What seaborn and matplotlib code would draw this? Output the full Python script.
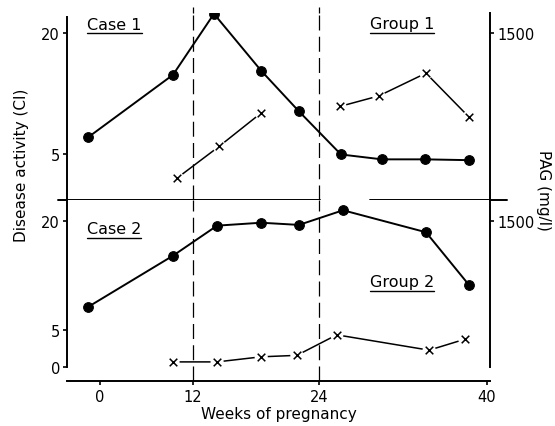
import numpy as np
import pandas as pd
import matplotlib
matplotlib.use("Agg")
import matplotlib.pyplot as plt
import seaborn as sns

# ---- data (weeks on the drawn scale; CI = disease activity, PAG in mg/l) ----
case1_weeks = [2.0, 10.1, 14.0, 18.5, 22.1, 26.1, 30.0, 34.1, 38.3]
case1_ci = [7.1, 14.8, 22.3, 15.3, 10.3, 5.0, 4.4, 4.4, 4.3]
case1_pag_weeks = [10.5, 14.5, 18.5, 26.0, 29.7, 34.2, 38.3]
case1_pag = [158, 450, 758, 818, 915, 1125, 720]
case1_pag_segment = [0, 0, 0, 1, 1, 1, 1]

case2_weeks = [2.0, 10.1, 14.3, 18.5, 22.1, 26.3, 34.2, 38.3]
case2_ci = [8.2, 15.2, 19.3, 19.7, 19.4, 21.4, 18.4, 11.2]
case2_pag_weeks = [10.1, 14.3, 18.5, 21.9, 25.7, 34.5, 37.9]
case2_pag = [53, 53, 105, 120, 330, 173, 285]
case2_pag_segment = [0, 0, 0, 0, 0, 0, 0]

x_tick_pos = [3.14, 12, 24, 40]
x_tick_labels = ["0", "12", "24", "40"]
ci_ticks_top = [5, 20]
ci_ticks_bottom = [0, 5, 20]
pag_ticks = [1500]
vlines = [12, 24]

sns.set_style("white")
plt.rcParams["font.family"] = ["DejaVu Sans"]
plt.rcParams["text.color"] = "black"
plt.rcParams["axes.labelcolor"] = "black"
plt.rcParams["xtick.color"] = "black"
plt.rcParams["ytick.color"] = "black"

W, H = 555, 427
fig = plt.figure(figsize=(W / 100, H / 100), dpi=100)

def fx(px):
    return px / W

def fy(py):
    return 1 - py / H

L, R = 67, 490
ax_top = fig.add_axes([fx(L), fy(201), fx(R - L), (201 - 14) / H])
ax_bot = fig.add_axes([fx(L), fy(382), fx(R - L), (382 - 201) / H])

xlim = (0, 40.3)
top_ylim = (-0.6, 22.4)
bot_ylim = (-1.9, 22.8)
PAG_PER_CI = 75.0

def draw_panel(ax, weeks, ci, pweeks, pag, seg, ylim, cticks):
    ax.set_xlim(*xlim)
    ax.set_ylim(*ylim)
    ax2 = ax.twinx()
    ax2.set_ylim(ylim[0] * PAG_PER_CI, ylim[1] * PAG_PER_CI)
    d1 = pd.DataFrame({"w": weeks, "ci": ci})
    sns.lineplot(data=d1, x="w", y="ci", ax=ax, color="black", lw=1.4,
                 marker="o", markersize=7, markeredgecolor="black",
                 estimator=None, sort=False, zorder=3)
    d2 = pd.DataFrame({"w": pweeks, "pag": pag, "seg": seg})
    sns.lineplot(data=d2, x="w", y="pag", units="seg", ax=ax2, color="black",
                 lw=1.1, estimator=None, sort=False, zorder=2)
    sns.scatterplot(data=d2, x="w", y="pag", ax=ax2, color="white", s=90,
                    marker="o", edgecolor="none", zorder=3)
    sns.scatterplot(data=d2, x="w", y="pag", ax=ax2, color="black", s=30,
                    marker="x", linewidth=1.1, zorder=4)
    for a in (ax, ax2):
        a.set_xlabel("")
        a.set_ylabel("")
        for s in ("top", "bottom", "left", "right"):
            a.spines[s].set_visible(False)
    ax.spines["left"].set_visible(True)
    ax.spines["left"].set_linewidth(1.4)
    ax.spines["left"].set_color("black")
    ax2.spines["right"].set_visible(True)
    ax2.spines["right"].set_linewidth(1.4)
    ax2.spines["right"].set_color("black")
    ax.set_yticks(cticks)
    ax2.set_yticks(pag_ticks)
    ax.tick_params(axis="y", direction="out", length=3, width=1.2,
                   labelsize=10.5, pad=2, colors="black", left=True)
    ax2.tick_params(axis="y", direction="out", length=3, width=1.2,
                    labelsize=10.5, pad=2, colors="black", right=True)
    for v in vlines:
        ax.axvline(v, color="black", lw=0.9, dashes=(12, 5), zorder=1)
    return ax2

ax2_top = draw_panel(ax_top, case1_weeks, case1_ci, case1_pag_weeks, case1_pag,
                     case1_pag_segment, top_ylim, ci_ticks_top)
ax2_bot = draw_panel(ax_bot, case2_weeks, case2_ci, case2_pag_weeks, case2_pag,
                     case2_pag_segment, bot_ylim, ci_ticks_bottom)

ax_top.spines["left"].set_bounds(top_ylim[0], 21.9)
ax_bot.spines["left"].set_bounds(0, bot_ylim[1])
ax2_bot.spines["right"].set_bounds(0, bot_ylim[1] * PAG_PER_CI)
ax_top.set_xticks([])

# bottom x axis
ax_bot.spines["bottom"].set_visible(True)
ax_bot.spines["bottom"].set_linewidth(1.4)
ax_bot.spines["bottom"].set_color("black")
ax_bot.set_xticks(x_tick_pos)
ax_bot.set_xticklabels(x_tick_labels)
ax_bot.tick_params(axis="x", direction="out", length=3, width=1.2,
                   labelsize=10.5, pad=3, colors="black", bottom=True)
ax_bot.set_xlabel("Weeks of pregnancy", fontsize=11, labelpad=1, color="black")

# separator line between panels, with gap
for x0, x1 in ((-0.022, 0.598), (0.716, 1.04)):
    ax_top.plot([x0, x1], [0, 0], transform=ax_top.transAxes, color="black",
                lw=1.4, clip_on=False, zorder=5)

# extend the dashed lines slightly above top panel
for v in vlines:
    ax_top.plot([v, v], [top_ylim[1], top_ylim[1] + 0.7], color="black", lw=0.9,
                dashes=(12, 5), clip_on=False)

# axis titles
fig.text(fx(22), fy(165), "Disease activity (CI)", rotation=90, ha="center",
         va="center", fontsize=11, color="black")
fig.text(fx(543), fy(190), "PAG (mg/l)", rotation=270, ha="center",
         va="center", fontsize=11, color="black")

# panel labels with underlines
labels = [("Case 1", 87, 25), ("Group 1", 370, 25), ("Case 2", 87, 230),
          ("Group 2", 370, 283)]
texts = []
for txt, px, py in labels:
    t = fig.text(fx(px), fy(py), txt, ha="left", va="center", fontsize=11.5,
                 color="black")
    texts.append(t)
fig.canvas.draw()
rend = fig.canvas.get_renderer()
for t in texts:
    bb = t.get_window_extent(rend)
    yline = bb.y0 - 1.5
    fig.add_artist(plt.Line2D([bb.x0 / W, bb.x1 / W], [yline / H, yline / H],
                              transform=fig.transFigure, color="black", lw=1.0))

fig.savefig("out.png", dpi=100)
